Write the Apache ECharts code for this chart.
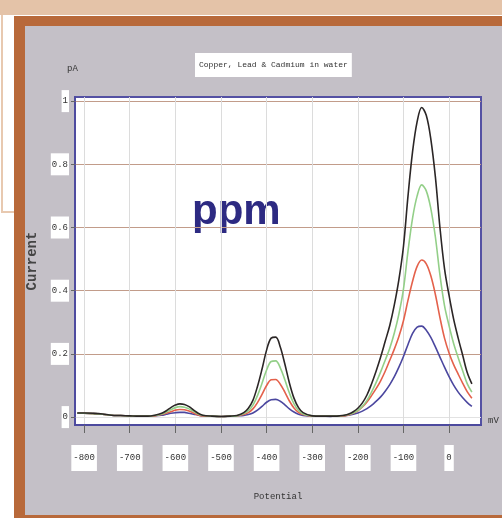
<!DOCTYPE html>
<html>
<head>
<meta charset="utf-8">
<script src="https://cdn.jsdelivr.net/npm/echarts@6/dist/echarts.min.js"></script>
<style>
  html, body { margin: 0; padding: 0; background: #fff; }
  #page { position: relative; width: 502px; height: 518px; overflow: hidden; }
  .topband { position: absolute; left: 0; top: 0; width: 502px; height: 15px; background: #e4c3a8; }
  .sidebox { position: absolute; left: 1px; top: 15px; width: 12px; height: 196px; border-left: 2px solid #e8c9b0; border-bottom: 2px solid #e8c9b0; }
  .frame { position: absolute; left: 14px; top: 16px; right: 0; bottom: 0; background: #b8693a; }
  .panel { position: absolute; left: 25px; top: 26px; right: 0; bottom: 3px; background: #c4c0c7; }
  #chart { position: absolute; left: 0; top: 0; width: 502px; height: 518px; }
</style>
</head>
<body>
<div id="page">
  <div class="topband"></div>
  <div class="sidebox"></div>
  <div class="frame"></div>
  <div class="panel"></div>
  <div id="chart"></div>
</div>
<script>
// potential (mV) for every sample
var potentials = [-815, -800, -780, -760, -740, -720, -700, -680, -660, -645,
    -630, -620, -610, -600, -590, -580, -570, -560, -550, -540,
    -520, -500, -480, -465,
    -450, -440, -430, -420, -410, -400, -390, -380, -370, -360, -350, -340, -330, -320, -300, -280,
    -260, -250, -240, -230, -220, -210, -200, -190, -180, -170, -160, -150, -140, -130, -120, -110,
    -100, -90, -80, -70, -60, -50, -40, -30, -20, -10, 0, 10, 20, 30, 40, 50];

// current (pA) - four concentrations
var blackCurve = [0.013, 0.013, 0.012, 0.010, 0.006, 0.005, 0.004, 0.003, 0.003, 0.006,
    0.012, 0.020, 0.030, 0.038, 0.042, 0.040, 0.033, 0.022, 0.012, 0.006,
    0.003, 0.002, 0.003, 0.005,
    0.014, 0.028, 0.053, 0.097, 0.152, 0.212, 0.250, 0.253, 0.222, 0.168, 0.108, 0.060, 0.030, 0.014, 0.004, 0.003,
    0.003, 0.003, 0.004, 0.006, 0.010, 0.017, 0.028, 0.045, 0.070, 0.105, 0.145, 0.190, 0.240, 0.290, 0.355, 0.435,
    0.540, 0.700, 0.840, 0.935, 0.980, 0.955, 0.880, 0.760, 0.600, 0.470, 0.385, 0.310, 0.250, 0.195, 0.140, 0.105];

var greenCurve = [0.012, 0.012, 0.011, 0.009, 0.006, 0.005, 0.004, 0.003, 0.003, 0.005,
    0.010, 0.016, 0.023, 0.030, 0.033, 0.031, 0.026, 0.018, 0.010, 0.005,
    0.003, 0.002, 0.003, 0.004,
    0.011, 0.020, 0.038, 0.068, 0.107, 0.149, 0.176, 0.178, 0.156, 0.118, 0.076, 0.042, 0.021, 0.010, 0.004, 0.003,
    0.003, 0.003, 0.004, 0.005, 0.008, 0.013, 0.021, 0.034, 0.053, 0.079, 0.109, 0.143, 0.180, 0.218, 0.266, 0.326,
    0.405, 0.525, 0.630, 0.700, 0.735, 0.716, 0.660, 0.570, 0.450, 0.353, 0.289, 0.233, 0.188, 0.146, 0.105, 0.079];

var redCurve = [0.012, 0.012, 0.011, 0.009, 0.006, 0.005, 0.004, 0.003, 0.003, 0.004,
    0.008, 0.012, 0.017, 0.022, 0.024, 0.023, 0.019, 0.013, 0.007, 0.004,
    0.003, 0.002, 0.003, 0.004,
    0.008, 0.014, 0.026, 0.046, 0.072, 0.100, 0.118, 0.119, 0.104, 0.079, 0.051, 0.029, 0.015, 0.008, 0.003, 0.003,
    0.003, 0.003, 0.003, 0.004, 0.007, 0.012, 0.020, 0.032, 0.048, 0.068, 0.090, 0.115, 0.145, 0.180, 0.215, 0.255,
    0.305, 0.370, 0.430, 0.477, 0.497, 0.485, 0.447, 0.388, 0.315, 0.250, 0.203, 0.166, 0.136, 0.107, 0.080, 0.060];

var blueCurve = [0.012, 0.012, 0.011, 0.009, 0.006, 0.005, 0.004, 0.003, 0.003, 0.004,
    0.006, 0.009, 0.012, 0.014, 0.015, 0.015, 0.012, 0.009, 0.006, 0.004,
    0.003, 0.002, 0.003, 0.004,
    0.005, 0.008, 0.013, 0.022, 0.034, 0.047, 0.055, 0.056, 0.050, 0.039, 0.026, 0.016, 0.009, 0.005, 0.003, 0.003,
    0.002, 0.003, 0.003, 0.004, 0.006, 0.009, 0.013, 0.019, 0.027, 0.037, 0.050, 0.064, 0.082, 0.103, 0.128, 0.158,
    0.192, 0.230, 0.265, 0.285, 0.288, 0.275, 0.252, 0.222, 0.190, 0.158, 0.128, 0.101, 0.079, 0.061, 0.046, 0.034];

var xTicks = [-800, -700, -600, -500, -400, -300, -200, -100, 0];
var xTickLabels = ['-800', '-700', '-600', '-500', '-400', '-300', '-200', '-100', '0'];
var yTicks = [0, 0.2, 0.4, 0.6, 0.8, 1];
var yTickLabels = ['0', '0.2', '0.4', '0.6', '0.8', '1'];

function pairs(ys){
    var out = [];
    for (var i = 0; i < potentials.length; i++) {
        out.push([potentials[i], ys[i]]);
    }
    return out;
}

function curve(name, color, ys){
    return {
        name: name,
        type: 'line',
        data: pairs(ys),
        smooth: 0.35,
        symbol: 'none',
        lineStyle: { color: color, width: 1.6 },
        z: 3
    };
}

var mono = '"Liberation Mono", "DejaVu Sans Mono", monospace';

var chart = echarts.init(document.getElementById('chart'), null, { renderer: 'canvas' });
var option = {
    backgroundColor: 'transparent',
    animation: false,
    title: {
        text: 'Copper, Lead & Cadmium in water',
        left: 195,
        top: 53,
        backgroundColor: '#fff',
        padding: [8, 4],
        textStyle: { fontFamily: mono, fontSize: 8, fontWeight: 'normal', color: '#333' }
    },
    grid: {
        left: 75, top: 97, right: 21, bottom: 93,
        show: true,
        backgroundColor: '#fff',
        borderColor: '#5451a3',
        borderWidth: 2
    },
    xAxis: {
        type: 'value',
        min: -820,
        max: 70,
        name: 'Potential',
        nameLocation: 'middle',
        nameGap: 67,
        nameTextStyle: { fontFamily: mono, fontSize: 9, color: '#333' },
        axisLine: { show: true, onZero: false, lineStyle: { color: '#4c4a9e', width: 2 } },
        axisTick: { show: true, customValues: xTicks, length: 8, lineStyle: { color: '#666' } },
        axisLabel: {
            customValues: xTicks,
            margin: 20,
            backgroundColor: '#fff',
            padding: [7, 2],
            lineHeight: 12,
            fontFamily: mono,
            fontSize: 9,
            color: '#333',
            formatter: function(v){ return xTickLabels[xTicks.indexOf(v)]; }
        },
        splitLine: { show: true, lineStyle: { color: '#dcdcdc', width: 1 } }
    },
    yAxis: {
        type: 'value',
        min: -0.025,
        max: 1.013,
        name: 'Current',
        nameLocation: 'middle',
        nameGap: 36,
        nameTextStyle: { fontFamily: mono, fontSize: 14, fontWeight: 'bold', color: '#444' },
        axisLine: { show: true, onZero: false, lineStyle: { color: '#4c4a9e', width: 1.5 } },
        axisTick: { show: true, customValues: yTicks, length: 4, lineStyle: { color: '#666' } },
        axisLabel: {
            customValues: yTicks,
            margin: 6,
            backgroundColor: '#fff',
            padding: [6, 1],
            lineHeight: 10,
            fontFamily: mono,
            fontSize: 9,
            color: '#333',
            formatter: function(v){ return yTickLabels[yTicks.indexOf(v)]; }
        },
        splitLine: { show: true, lineStyle: { color: ['#e2e2e2', '#c29c8a', '#c29c8a', '#c29c8a', '#c29c8a', '#c29c8a'], width: 1 } }
    },
    graphic: [
        { type: 'text', left: 67, top: 64, style: { text: 'pA', font: '9px ' + mono, fill: '#333' } },
        { type: 'text', left: 488, top: 416, style: { text: 'mV', font: '9px ' + mono, fill: '#333' } },
        { type: 'text', left: 192, top: 191, style: { text: 'ppm', font: 'bold 42px "Liberation Sans", Arial, sans-serif', fill: '#2d2a82' } }
    ],
    series: [
        curve('blue', '#4b479f', blueCurve),
        curve('red', '#e4614b', redCurve),
        curve('green', '#93cf88', greenCurve),
        curve('black', '#2b2626', blackCurve)
    ]
};
chart.setOption(option);
</script>
</body>
</html>
